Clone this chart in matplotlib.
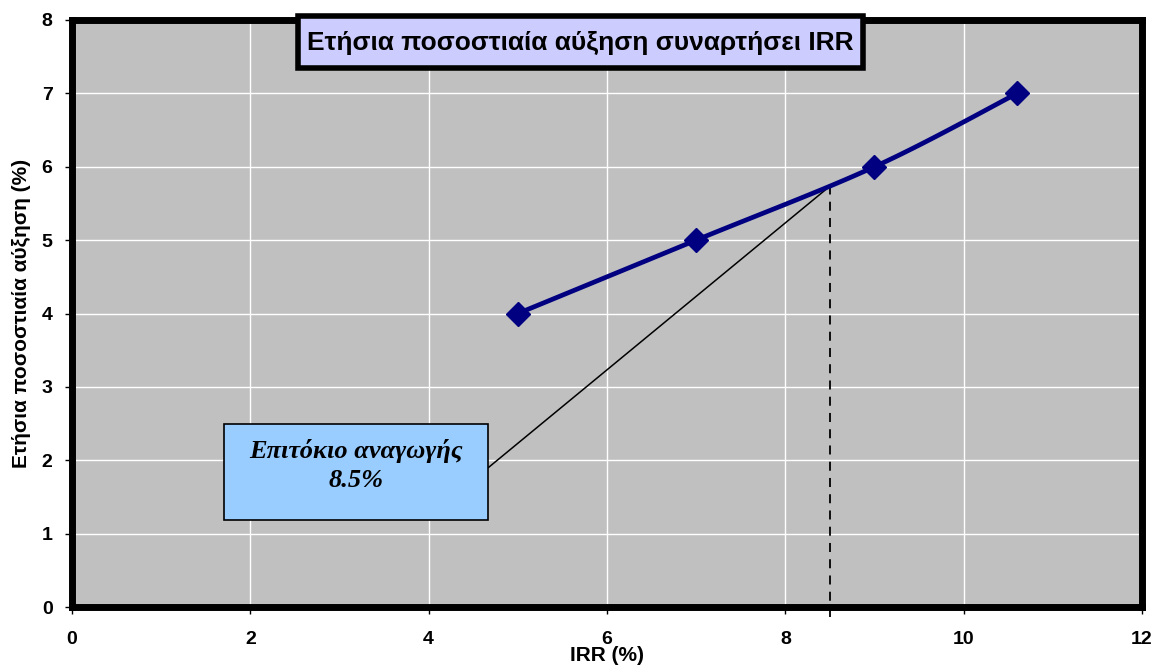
import numpy as np
import matplotlib
matplotlib.use("Agg")
import matplotlib.pyplot as plt
from matplotlib.patches import Rectangle

# Data
irr = [5.0, 7.0, 9.0, 10.6]
growth = [4.0, 5.0, 6.0, 7.0]
discount_rate = 8.5
x_ticks = [0, 2, 4, 6, 8, 10, 12]
y_ticks = [0, 1, 2, 3, 4, 5, 6, 7, 8]

title_text = "Ετήσια ποσοστιαία αύξηση συναρτήσει IRR"
x_label = "IRR (%)"
y_label = "Ετήσια ποσοστιαία αύξηση (%)"
note_text = "Επιτόκιο αναγωγής\n8.5%"


def smooth_curve(xs, ys, n=40):
    """Catmull-Rom style smoothing through the given points (Bezier, tension 1/6)."""
    p = np.column_stack([xs, ys]).astype(float)
    pts = np.vstack([p[0], p, p[-1]])
    out = []
    for i in range(1, len(pts) - 2):
        p0, p1, p2, p3 = pts[i - 1], pts[i], pts[i + 1], pts[i + 2]
        c1 = p1 + (p2 - p0) / 6.0
        c2 = p2 - (p3 - p1) / 6.0
        t = np.linspace(0, 1, n)[:, None]
        seg = ((1 - t) ** 3) * p1 + 3 * ((1 - t) ** 2) * t * c1 + 3 * (1 - t) * t ** 2 * c2 + t ** 3 * p2
        out.append(seg if i == 1 else seg[1:])
    seg = np.vstack(out)
    return seg[:, 0], seg[:, 1]


sx, sy = smooth_curve(irr, growth)
y_at_rate = float(np.interp(discount_rate, sx, sy))

W, H = 1158, 669
fig = plt.figure(figsize=(W / 100, H / 100), dpi=100)
ax = fig.add_axes([72 / W, 1 - 607 / H, (1142 - 72) / W, (607 - 20) / H])
ax.set_facecolor("#C0C0C0")
ax.set_xlim(0, 12)
ax.set_ylim(0, 8)
ax.set_xticks(x_ticks)
ax.set_yticks(y_ticks)
ax.grid(True, color="white", linewidth=1.0)
ax.set_axisbelow(True)

for s in ax.spines.values():
    s.set_linewidth(5)
    s.set_color("black")

ax.tick_params(direction="out", length=5, width=1, color="black")
ax.tick_params(axis="x", pad=12)
ax.tick_params(axis="y", pad=9)
for lab in ax.get_xticklabels() + ax.get_yticklabels():
    lab.set_fontfamily("Liberation Sans")
    lab.set_fontweight("bold")
    lab.set_fontsize(14)

# Growth curve with diamond markers
ax.plot(sx, sy, color="#000080", linewidth=3.4, solid_capstyle="round", zorder=4)
ax.plot(irr, growth, linestyle="none", marker="D", markersize=12,
        color="#000080", zorder=5)

# Dashed guide at the discount rate
ax.plot([discount_rate, discount_rate], [-0.14, y_at_rate], color="black",
        linestyle=(0, (5, 4)), linewidth=1.3, clip_on=False, zorder=3)

# Note box with leader line
box_x0, box_y0, box_w, box_h = 1.70, 1.18, 2.97, 1.31
ax.plot([box_x0 + box_w, discount_rate], [box_y0 + box_h * 0.55, y_at_rate],
        color="black", linewidth=1.1, zorder=3)
ax.add_patch(Rectangle((box_x0, box_y0), box_w, box_h, facecolor="#99CCFF",
                       edgecolor="black", linewidth=1.2, zorder=6))
ax.text(box_x0 + box_w / 2, box_y0 + box_h * 0.57, note_text, ha="center", va="center",
        fontfamily="Liberation Serif", fontweight="bold", fontstyle="italic",
        fontsize=19, linespacing=1.3, zorder=7)

# Title box
fig.add_artist(Rectangle((298 / W, 1 - 68 / H), (863 - 298) / W, (68 - 16) / H,
                         transform=fig.transFigure, facecolor="#CCCCFF",
                         edgecolor="black", linewidth=4, zorder=10))
fig.text(580 / W, 1 - 43 / H, title_text, ha="center", va="center",
         fontfamily="Liberation Sans", fontweight="bold", fontsize=19, zorder=11)

ax.set_xlabel(x_label, fontfamily="Liberation Sans", fontweight="bold",
              fontsize=15, labelpad=-1)
ax.set_ylabel(y_label, fontfamily="Liberation Sans", fontweight="bold",
              fontsize=15, labelpad=8)

fig.savefig("out.png", dpi=100)
